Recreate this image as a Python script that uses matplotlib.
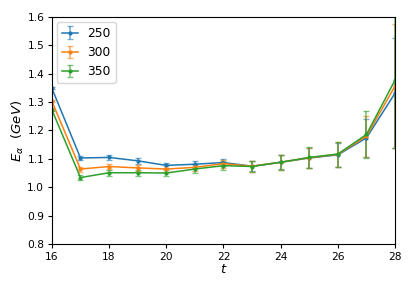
import matplotlib
matplotlib.use("Agg")
import matplotlib.pyplot as plt

t = [16, 17, 18, 19, 20, 21, 22, 23, 24, 25, 26, 27, 28]
labels = ["250", "300", "350"]
E250 = [1.349, 1.103, 1.105, 1.093, 1.077, 1.081, 1.087, 1.074, 1.088, 1.103, 1.114, 1.174, 1.332]
E300 = [1.303, 1.064, 1.073, 1.068, 1.064, 1.070, 1.083, 1.074, 1.088, 1.104, 1.116, 1.180, 1.357]
E350 = [1.273, 1.034, 1.051, 1.051, 1.050, 1.064, 1.076, 1.073, 1.088, 1.105, 1.117, 1.186, 1.378]
err250 = [0.004, 0.008, 0.009, 0.010, 0.010, 0.012, 0.013, 0.018, 0.025, 0.034, 0.042, 0.068, 0.195]
err300 = [0.004, 0.009, 0.010, 0.011, 0.011, 0.012, 0.014, 0.019, 0.026, 0.035, 0.043, 0.072, 0.218]
err350 = [0.005, 0.009, 0.011, 0.011, 0.012, 0.013, 0.015, 0.020, 0.027, 0.036, 0.044, 0.082, 0.240]

fig = plt.figure(figsize=(4.15, 2.9), dpi=100)
ax = fig.add_axes([0.125, 0.159, 0.827, 0.782])
colors = ["#1f77b4", "#ff7f0e", "#2ca02c"]
for y, e, lab, c in zip([E250, E300, E350], [err250, err300, err350], labels, colors):
    eb = ax.errorbar(t, y, yerr=e, color=c, label=lab, marker='.', markersize=4,
                     capsize=2, elinewidth=1.2, lw=1.1)
    for b in eb[2]:
        b.set_alpha(0.6)
    for cl in eb[1]:
        cl.set_alpha(0.6)

ax.set_xlim(16, 28)
ax.set_ylim(0.8, 1.6)
ax.set_xticks([16, 18, 20, 22, 24, 26, 28])
ax.tick_params(labelsize=7.7, length=3, pad=2.5)
ax.set_xlabel(r"$t$", fontsize=9.5, labelpad=1)
ax.set_ylabel(r"$E_\alpha\ \ (GeV)$", fontsize=9.5, labelpad=1)
ax.legend(loc="upper left", fontsize=8.8, handlelength=1.3, borderaxespad=0.4)
fig.savefig("out.png", dpi=100)
